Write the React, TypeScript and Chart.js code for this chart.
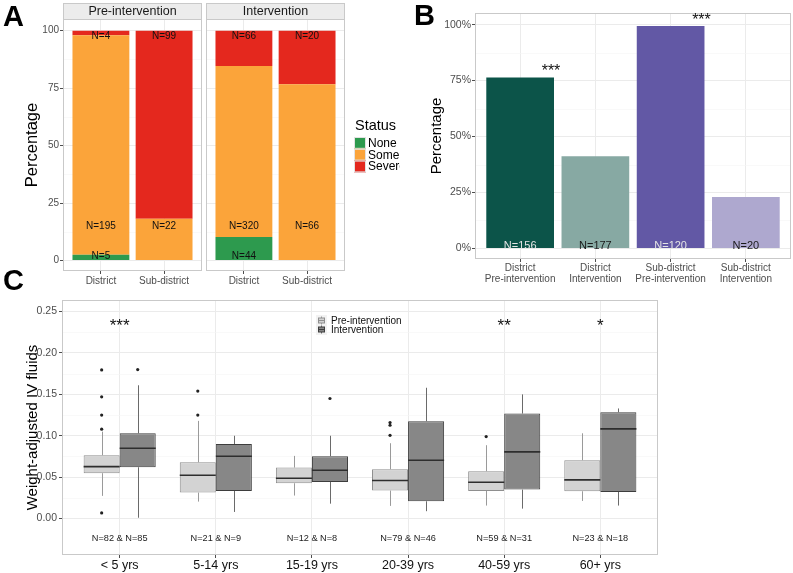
import React, { useEffect, useRef } from "react";
import { Chart, registerables } from "chart.js";
Chart.register(...registerables);

const FONT = "'Liberation Sans', Arial, Helvetica, sans-serif";

// ---------------- Panel A data ----------------
const aFacets = ["Pre-intervention", "Intervention"];
const aSites = ["District", "Sub-district"];
const aStatuses = ["None", "Some", "Severe"];
const aStatusColors = ["#2d9a4e", "#fba43a", "#e4281e"];
const aPreNone = [5, 0];
const aPreSome = [195, 22];
const aPreSevere = [4, 99];
const aIntNone = [44, 0];
const aIntSome = [320, 66];
const aIntSevere = [66, 20];
const aYTicks = [0, 25, 50, 75, 100];

// ---------------- Panel B data ----------------
const bCategories = [
  ["District", "Pre-intervention"],
  ["District", "Intervention"],
  ["Sub-district", "Pre-intervention"],
  ["Sub-district", "Intervention"],
];
const bPercent = [76.4, 41.2, 99.4, 23.0];
const bCounts = [156, 177, 120, 20];
const bSignif = ["***", "", "***", ""];
const bColors = ["#0c5449", "#87a9a3", "#6258a5", "#aea8cf"];
const bCountColors = ["#e4e4e4", "#1a1a1a", "#e4e4e4", "#1a1a1a"];
const bYTicks = [0, 25, 50, 75, 100];

// ---------------- Panel C data ----------------
const cAgeGroups = ["< 5 yrs", "5-14 yrs", "15-19 yrs", "20-39 yrs", "40-59 yrs", "60+ yrs"];
const cPreN = [82, 21, 12, 79, 59, 23];
const cIntN = [85, 9, 8, 46, 31, 18];
const cSignif = ["***", "", "", "", "**", "*"];
const cPreMin = [0.0274, 0.0205, 0.0278, 0.0153, 0.0157, 0.0213];
const cPreQ1 = [0.0548, 0.0314, 0.0427, 0.0338, 0.0334, 0.033];
const cPreMed = [0.0628, 0.0523, 0.0487, 0.0459, 0.0439, 0.0467];
const cPreQ3 = [0.0765, 0.068, 0.0616, 0.0596, 0.0572, 0.0705];
const cPreMax = [0.105, 0.118, 0.0757, 0.091, 0.0886, 0.103];
const cPreOutliers = [[0.1795, 0.147, 0.125, 0.108, 0.0068], [0.154, 0.125], [], [0.116, 0.1127, 0.1006], [0.099], []];
const cIntMin = [0.001, 0.008, 0.018, 0.0089, 0.012, 0.0157];
const cIntQ1 = [0.062, 0.0334, 0.0443, 0.0209, 0.035, 0.0322];
const cIntMed = [0.085, 0.0753, 0.0584, 0.0705, 0.0805, 0.1083];
const cIntQ3 = [0.103, 0.09, 0.0753, 0.1176, 0.1268, 0.1284];
const cIntMax = [0.161, 0.1, 0.1, 0.158, 0.15, 0.133];
const cIntOutliers = [[0.18], [], [0.145], [], [], []];
const cYTicks = [0, 0.05, 0.1, 0.15, 0.2, 0.25];
const cYMinor = [0.025, 0.075, 0.125, 0.175, 0.225];

const GRID = "#ebebeb";
const MINOR = "#f5f5f5";
const TICK = "#4d4d4d";
const FRAME = "#c9c9c9";

const fixedTicks = (values: number[]) => (scale: any) => {
  scale.ticks = values.map((v) => ({ value: v }));
};

const baseOptions = {
  animation: false,
  responsive: false,
  devicePixelRatio: 1,
  events: [],
  plugins: { legend: { display: false }, tooltip: { enabled: false }, title: { display: false } },
};

function framePlugin(minorY: number[]) {
  return {
    id: "frame",
    beforeDatasetsDraw(chart: any) {
      const { ctx, chartArea, scales } = chart;
      ctx.save();
      ctx.strokeStyle = MINOR;
      ctx.lineWidth = 0.6;
      minorY.forEach((v) => {
        const py = Math.round(scales.y.getPixelForValue(v)) + 0.5;
        ctx.beginPath();
        ctx.moveTo(chartArea.left, py);
        ctx.lineTo(chartArea.right, py);
        ctx.stroke();
      });
      ctx.restore();
    },
    afterDatasetsDraw(chart: any) {
      const { ctx, chartArea } = chart;
      ctx.save();
      ctx.strokeStyle = FRAME;
      ctx.lineWidth = 1;
      ctx.strokeRect(
        Math.round(chartArea.left) + 0.5,
        Math.round(chartArea.top) + 0.5,
        Math.round(chartArea.right - chartArea.left) - 1,
        Math.round(chartArea.bottom - chartArea.top) - 1
      );
      ctx.restore();
    },
  };
}

function facetConfig(facetIdx: number, none: number[], some: number[], severe: number[], first: boolean) {
  const counts = [none, some, severe];
  const totals = aSites.map((_, i) => none[i] + some[i] + severe[i]);
  const labelLevels = [1.8, 15, 97.7];
  const datasets = aStatuses.map((s, k) => ({
    label: s,
    data: aSites.map((_, i) => ({ x: i + 1, y: (counts[k][i] / totals[i]) * 100 })),
    backgroundColor: aStatusColors[k],
    borderWidth: 0,
    barPercentage: 0.9,
    categoryPercentage: 1,
  }));
  const decor = {
    id: "facetDecor",
    afterDatasetsDraw(chart: any) {
      const { ctx, chartArea, scales } = chart;
      ctx.save();
      ctx.font = `10px ${FONT}`;
      ctx.fillStyle = "#111";
      ctx.textAlign = "center";
      ctx.textBaseline = "middle";
      counts.forEach((arr, k) =>
        arr.forEach((n, i) => {
          if (n > 0) ctx.fillText(`N=${n}`, scales.x.getPixelForValue(i + 1), scales.y.getPixelForValue(labelLevels[k]));
        })
      );
      const top = 3;
      ctx.fillStyle = "#ececec";
      ctx.fillRect(chartArea.left, top, chartArea.right - chartArea.left, chartArea.top - top);
      ctx.strokeStyle = FRAME;
      ctx.strokeRect(Math.round(chartArea.left) + 0.5, top + 0.5, Math.round(chartArea.right - chartArea.left) - 1, chartArea.top - top);
      ctx.fillStyle = "#1a1a1a";
      ctx.font = `12.5px ${FONT}`;
      ctx.fillText(aFacets[facetIdx], (chartArea.left + chartArea.right) / 2, (top + chartArea.top) / 2 + 1);
      if (!first) {
        const lx = chartArea.right + 9;
        ctx.textAlign = "left";
        ctx.fillStyle = "#000";
        ctx.font = `14.5px ${FONT}`;
        ctx.fillText("Status", lx + 1, 126);
        ctx.font = `12px ${FONT}`;
        aStatuses.forEach((s, k) => {
          const ky = 137 + k * 11.8;
          ctx.fillStyle = aStatusColors[k];
          ctx.fillRect(lx, ky, 12, 11.8);
          ctx.strokeStyle = "#e2e2e2";
          ctx.strokeRect(lx + 0.5, ky + 0.5, 11, 10.8);
          ctx.fillStyle = "#000";
          ctx.fillText(s, lx + 14, ky + 6.5);
        });
      }
      ctx.restore();
    },
  };
  return {
    type: "bar",
    data: { datasets },
    options: {
      ...baseOptions,
      layout: { padding: { top: 19, right: first ? 1 : 55, left: 0, bottom: 0 } },
      scales: {
        x: {
          type: "linear",
          min: 0.4,
          max: 2.6,
          offset: false,
          stacked: true,
          afterBuildTicks: fixedTicks([1, 2]),
          afterFit: (s: any) => {
            s.height = 19;
          },
          ticks: {
            callback: (_v: any, i: number) => aSites[i],
            autoSkip: false,
            maxRotation: 0,
            font: { family: FONT, size: 10 },
            color: TICK,
            padding: 1,
          },
          grid: { offset: false, color: GRID, tickColor: TICK, tickLength: 3 },
          border: { display: false },
        },
        y: {
          type: "linear",
          min: -4.6,
          max: 105.1,
          stacked: true,
          afterBuildTicks: fixedTicks(aYTicks),
          afterFit: (s: any) => {
            s.width = first ? 63 : 3;
          },
          ticks: { display: first, font: { family: FONT, size: 10 }, color: TICK, padding: 1 },
          grid: { color: GRID, tickColor: TICK, tickLength: 3, drawTicks: first },
          border: { display: false },
          title: {
            display: first,
            text: "Percentage",
            font: { family: FONT, size: 16.5 },
            color: "#000",
            padding: { top: 23, bottom: 0 },
          },
        },
      },
    },
    plugins: [framePlugin([12.5, 37.5, 62.5, 87.5]), decor],
  };
}

function barConfig() {
  const decor = {
    id: "barDecor",
    afterDatasetsDraw(chart: any) {
      const { ctx, scales } = chart;
      ctx.save();
      ctx.textAlign = "center";
      ctx.font = `11px ${FONT}`;
      ctx.textBaseline = "alphabetic";
      bCounts.forEach((n, i) => {
        ctx.fillStyle = bCountColors[i];
        ctx.fillText(`N=${n}`, scales.x.getPixelForValue(i + 1), scales.y.getPixelForValue(0) + 0.5);
      });
      ctx.fillStyle = "#111";
      ctx.font = `16px ${FONT}`;
      ctx.textBaseline = "middle";
      bSignif.forEach((s, i) => {
        if (s) ctx.fillText(s, scales.x.getPixelForValue(i + 1.41), scales.y.getPixelForValue(bPercent[i] + 2.5));
      });
      ctx.restore();
    },
  };
  return {
    type: "bar",
    data: {
      datasets: [
        {
          label: "Percentage",
          data: bCategories.map((_, i) => ({ x: i + 1, y: bPercent[i] })),
          backgroundColor: bColors,
          borderWidth: 0,
          barPercentage: 0.9,
          categoryPercentage: 1,
        },
      ],
    },
    options: {
      ...baseOptions,
      layout: { padding: { top: 13, right: 2, left: 0, bottom: 0 } },
      scales: {
        x: {
          type: "linear",
          min: 0.4,
          max: 4.6,
          offset: false,
          afterBuildTicks: fixedTicks([1, 2, 3, 4]),
          afterFit: (s: any) => {
            s.height = 31;
          },
          ticks: {
            callback: (_v: any, i: number) => bCategories[i],
            autoSkip: false,
            maxRotation: 0,
            font: { family: FONT, size: 10, lineHeight: 1.1 },
            color: TICK,
            padding: 1,
          },
          grid: { offset: false, color: GRID, tickColor: TICK, tickLength: 3 },
          border: { display: false },
        },
        y: {
          type: "linear",
          min: -4.7,
          max: 105.2,
          afterBuildTicks: fixedTicks(bYTicks),
          afterFit: (s: any) => {
            s.width = 75;
          },
          ticks: { callback: (v: any) => `${v}%`, font: { family: FONT, size: 10.5 }, color: TICK, padding: 1 },
          grid: { color: GRID, tickColor: TICK, tickLength: 3 },
          border: { display: false },
          title: {
            display: true,
            text: "Percentage",
            font: { family: FONT, size: 15 },
            color: "#000",
            padding: { top: 28, bottom: 0 },
          },
        },
      },
    },
    plugins: [framePlugin([12.5, 37.5, 62.5, 87.5]), decor],
  };
}

function boxConfig() {
  const groups = [
    { min: cPreMin, q1: cPreQ1, med: cPreMed, q3: cPreQ3, max: cPreMax, out: cPreOutliers, whisker: "#9a9a9a" },
    { min: cIntMin, q1: cIntQ1, med: cIntMed, q3: cIntQ3, max: cIntMax, out: cIntOutliers, whisker: "#6a6a6a" },
  ];
  const fills = ["#d3d3d3", "#878787"];
  const borders = ["#8f8f8f", "#3d3d3d"];
  const names = ["Pre-intervention", "Intervention"];
  const line = (ctx: any, x1: number, y1: number, x2: number, y2: number) => {
    ctx.beginPath();
    ctx.moveTo(x1, y1);
    ctx.lineTo(x2, y2);
    ctx.stroke();
  };
  const decor = {
    id: "boxDecor",
    afterDatasetsDraw(chart: any) {
      const { ctx, scales, chartArea } = chart;
      const Y = (v: number) => scales.y.getPixelForValue(v);
      ctx.save();
      groups.forEach((g, d) => {
        const meta = chart.getDatasetMeta(d);
        meta.data.forEach((el: any, i: number) => {
          const px = Math.round(el.x) + 0.5;
          const w = el.width;
          ctx.strokeStyle = g.whisker;
          ctx.lineWidth = 1;
          line(ctx, px, Y(g.q3[i]), px, Y(g.max[i]));
          line(ctx, px, Y(g.q1[i]), px, Y(g.min[i]));
          ctx.strokeStyle = "#2e2e2e";
          ctx.lineWidth = 1.6;
          line(ctx, el.x - w / 2, Y(g.med[i]), el.x + w / 2, Y(g.med[i]));
          ctx.fillStyle = "#222";
          g.out[i].forEach((v: number) => {
            ctx.beginPath();
            ctx.arc(el.x, Y(v), 1.6, 0, Math.PI * 2);
            ctx.fill();
          });
        });
      });
      ctx.textAlign = "center";
      ctx.textBaseline = "middle";
      ctx.fillStyle = "#222";
      ctx.font = `9.2px ${FONT}`;
      cAgeGroups.forEach((_, i) => {
        ctx.fillText(`N=${cPreN[i]} & N=${cIntN[i]}`, scales.x.getPixelForValue(i + 1), Y(-0.0245));
      });
      ctx.fillStyle = "#111";
      ctx.font = `17px ${FONT}`;
      cSignif.forEach((s, i) => {
        if (s) ctx.fillText(s, scales.x.getPixelForValue(i + 1), Y(0.232));
      });
      const lx = chartArea.left + 255;
      const ly = chartArea.top + 15;
      ctx.fillStyle = "#f2f2f2";
      ctx.fillRect(lx - 1, ly, 11, 20);
      ctx.textAlign = "left";
      ctx.font = `10px ${FONT}`;
      names.forEach((n, k) => {
        const cy = ly + 5.5 + k * 9;
        const cx = lx + 4.5;
        ctx.strokeStyle = groups[k].whisker;
        ctx.lineWidth = 1;
        line(ctx, cx, cy - 4, cx, cy + 4);
        ctx.fillStyle = fills[k];
        ctx.fillRect(lx + 1, cy - 2.5, 7, 5);
        ctx.strokeStyle = borders[k];
        ctx.strokeRect(lx + 1.5, cy - 2.5, 6, 5);
        line(ctx, lx + 1.5, cy, lx + 7.5, cy);
        ctx.fillStyle = "#111";
        ctx.fillText(n, lx + 14, cy + 0.5);
      });
      ctx.restore();
    },
  };
  return {
    type: "bar",
    data: {
      datasets: groups.map((g, d) => ({
        label: names[d],
        data: cAgeGroups.map((_, i) => ({ x: i + 1, y: [g.q1[i], g.q3[i]] })),
        backgroundColor: fills[d],
        borderColor: borders[d],
        borderWidth: 1,
        borderSkipped: false,
        barPercentage: 1,
        categoryPercentage: 0.75,
      })),
    },
    options: {
      ...baseOptions,
      layout: { padding: { top: 15, right: 135, left: 0, bottom: 0 } },
      scales: {
        x: {
          type: "linear",
          min: 0.4,
          max: 6.6,
          offset: false,
          afterBuildTicks: fixedTicks([1, 2, 3, 4, 5, 6]),
          afterFit: (s: any) => {
            s.height = 18;
          },
          ticks: {
            callback: (_v: any, i: number) => cAgeGroups[i],
            autoSkip: false,
            maxRotation: 0,
            font: { family: FONT, size: 12.5 },
            color: "#111",
            padding: 0,
          },
          grid: { offset: false, color: GRID, tickColor: TICK, tickLength: 3 },
          border: { display: false },
        },
        y: {
          type: "linear",
          min: -0.044,
          max: 0.264,
          afterBuildTicks: fixedTicks(cYTicks),
          afterFit: (s: any) => {
            s.width = 62;
          },
          ticks: { callback: (v: any) => Number(v).toFixed(2), font: { family: FONT, size: 10.5 }, color: TICK, padding: 2 },
          grid: { color: GRID, tickColor: TICK, tickLength: 3 },
          border: { display: false },
          title: {
            display: true,
            text: "Weight-adjusted IV fluids",
            font: { family: FONT, size: 15 },
            color: "#000",
            padding: { top: 24, bottom: 0 },
          },
        },
      },
    },
    plugins: [framePlugin(cYMinor), decor],
  };
}

const letterStyle = (left: number, top: number): React.CSSProperties => ({
  position: "absolute",
  left,
  top,
  fontFamily: FONT,
  fontWeight: "bold",
  fontSize: 29,
  lineHeight: "29px",
  color: "#000",
});

export default function App() {
  const a1 = useRef<HTMLCanvasElement>(null);
  const a2 = useRef<HTMLCanvasElement>(null);
  const b = useRef<HTMLCanvasElement>(null);
  const c = useRef<HTMLCanvasElement>(null);
  useEffect(() => {
    const charts = [
      new Chart(a1.current as any, facetConfig(0, aPreNone, aPreSome, aPreSevere, true) as any),
      new Chart(a2.current as any, facetConfig(1, aIntNone, aIntSome, aIntSevere, false) as any),
      new Chart(b.current as any, barConfig() as any),
      new Chart(c.current as any, boxConfig() as any),
    ];
    return () => charts.forEach((ch) => ch.destroy());
  }, []);
  const cv = (left: number, top: number, w: number, h: number): React.CSSProperties => ({
    position: "absolute",
    left,
    top,
    width: w,
    height: h,
  });
  return (
    <div style={{ position: "absolute", left: 0, top: 0, width: 793, height: 573, background: "#fff", overflow: "hidden" }}>
      <canvas ref={a1} width={203} height={290} style={cv(0, 0, 203, 290)} />
      <canvas ref={a2} width={197} height={290} style={cv(203, 0, 197, 290)} />
      <canvas ref={b} width={393} height={290} style={cv(400, 0, 393, 290)} />
      <canvas ref={c} width={793} height={288} style={cv(0, 285, 793, 288)} />
      <div style={letterStyle(3, 2)}>A</div>
      <div style={letterStyle(414, 1)}>B</div>
      <div style={letterStyle(3, 266)}>C</div>
    </div>
  );
}
